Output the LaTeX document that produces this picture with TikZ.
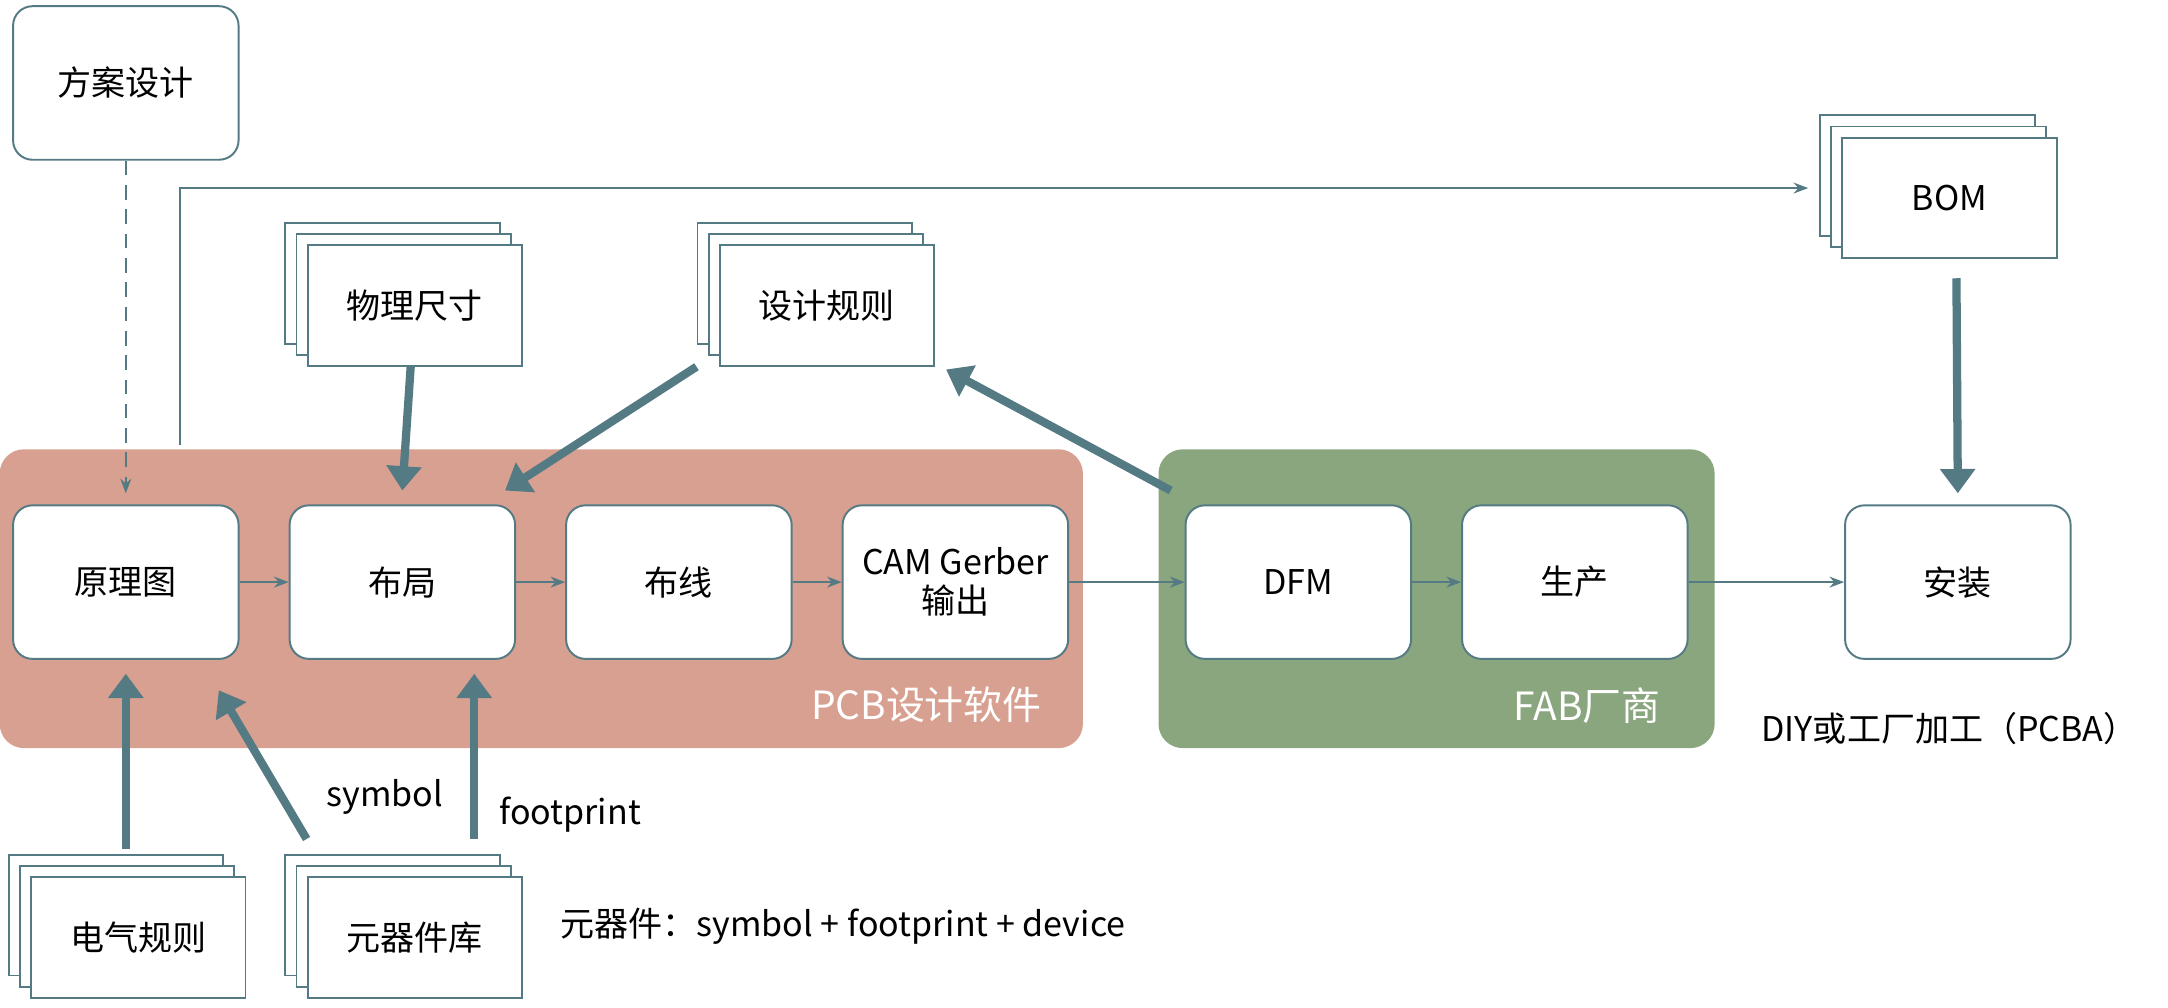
\documentclass[tikz,border=0pt]{standalone}
\usepackage{fontspec}
\setmainfont{Noto Sans CJK SC}
\usetikzlibrary{arrows.meta, positioning, calc}
\definecolor{flow_edge}{RGB}{84, 122, 132}
\definecolor{flow_pcb}{RGB}{216, 160, 144}
\definecolor{flow_fab}{RGB}{138, 166, 126}
\begin{document}
\begin{tikzpicture}[x=0.01cm, y=-0.01cm, font=\fontsize{7}{8}\selectfont,
    blk/.style={draw=flow_edge, fill=white, rounded corners=4pt, align=center,
                minimum width=1.63cm, minimum height=1.11cm, line width=0.4pt},
    doc/.style={draw=flow_edge, fill=white, align=center,
                minimum width=1.55cm, minimum height=0.87cm, line width=0.4pt},
    zone/.style={rounded corners=5pt, minimum height=2.16cm},
    arr/.style={-{Stealth[length=3pt]}, flow_edge, line width=0.4pt},
    fat/.style={-{Triangle[length=5pt, width=7pt]}, flow_edge, line width=1.7pt}]
  \useasboundingbox (0,0) rectangle (1568,729);
  % zones
  \node[zone, fill=flow_pcb, minimum width=7.83cm] (pcb) at (391.5,433) {};
  \node[zone, fill=flow_fab, minimum width=4.02cm] (fab) at (1039,433) {};
  \node[white, font=\fontsize{8}{9}\selectfont] at (670,510) {PCB设计软件};
  \node[white, font=\fontsize{8}{9}\selectfont] at (1148,510) {FAB厂商};
  % main flow
  \node[blk] (plan) at (91,60) {方案设计};
  \node[blk] (sch) at (91,421) {原理图};
  \node[blk] (place) at (291,421) {布局};
  \node[blk] (route) at (491,421) {布线};
  \node[blk] (cam) at (691,421) {CAM Gerber\\输出};
  \node[blk] (dfm) at (939,421) {DFM};
  \node[blk] (prod) at (1139,421) {生产};
  \node[blk] (asm) at (1416,421) {安装};
  % stacked documents
  \foreach \name/\x/\y/\txt in {dim/300/221/物理尺寸, rule/598/221/设计规则,
      bom/1410/143/BOM, erc/100/678/电气规则, lib/300/678/元器件库} {
    \node[doc] at (\x-16,\y-16) {};
    \node[doc] at (\x-8,\y-8) {};
    \node[doc] (\name) at (\x,\y) {\txt};
  }
  % thin connectors
  \draw[arr] (sch) -- (place);
  \draw[arr] (place) -- (route);
  \draw[arr] (route) -- (cam);
  \draw[arr] (cam) -- (dfm);
  \draw[arr] (dfm) -- (prod);
  \draw[arr] (prod) -- (asm);
  \coordinate (tap) at (130,322);
  \draw[arr] (tap) |- ($(bom.west)+(-24,-7)$);
  \draw[arr, densely dashed] (plan) -- ($(sch.north)+(0,-8)$);
  % thick connectors
  \draw[fat] (dim) -- ($(place.north)+(0,-10)$);
  \draw[fat] (rule.south west)+(-16,0) -- ($(place.north east)+(-8,-10)$);
  \draw[fat] ($(dfm.north west)+(-10,-10)$) -- ($(rule.south east)+(8,2)$);
  \draw[fat] ($(bom.south)+(5,14)$) -- ($(asm.north)+(0,-8)$);
  \draw[fat] ($(erc.north)+(-9,-20)$) -- ($(sch.south)+(0,10)$);
  \draw[fat] ($(lib.north west)+(0,-27)$) -- ($(sch.south east)+(-15,22)$)
    node[pos=0.28, right=5pt, black] {symbol};
  \draw[fat] ($(lib.north)+(43,-27)$) -- ($(place.south)+(52,10)$)
    node[pos=0.15, right=1pt, black] {footprint};
  % notes
  \node[anchor=west] (note) at (393,670) {元器件：symbol + footprint + device};
  \node (diy) at (1410,527) {DIY或工厂加工（PCBA）};
\end{tikzpicture}
\end{document}
